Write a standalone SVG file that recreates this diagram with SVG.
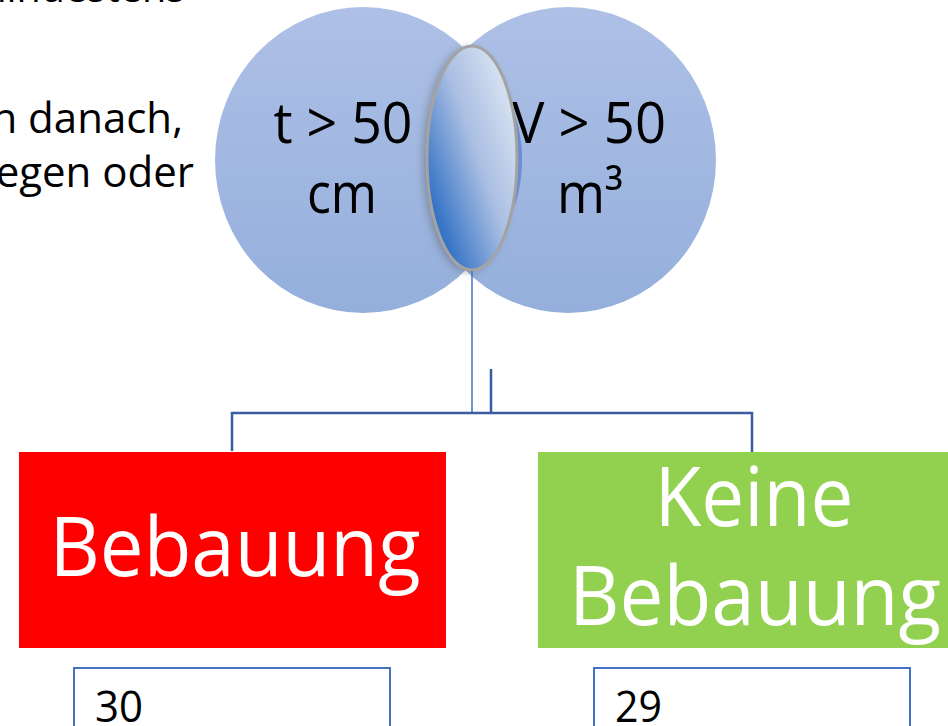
<svg xmlns="http://www.w3.org/2000/svg" width="948" height="726" viewBox="0 0 948 726">
<style>
.txt{font-family:"Open Sans","Liberation Sans",sans-serif;}
.side{font-size:42px;fill:#000;}
.ctext{font-size:56px;fill:#000;text-anchor:middle;}
.big{font-size:83px;fill:#fff;text-anchor:middle;}
.num{font-size:44px;fill:#000;}
.conn{fill:none;stroke:#3A5DA0;stroke-width:2.5;}
.box{fill:#fff;stroke:#4472C4;stroke-width:2;}
</style>
<defs>
<linearGradient id="cg" x1="0" y1="0" x2="0" y2="1">
<stop offset="0" stop-color="#AEC0E6"/>
<stop offset="1" stop-color="#94AFDC"/>
</linearGradient>
<linearGradient id="eg" x1="0.85" y1="0.2" x2="0.15" y2="0.8">
<stop offset="0" stop-color="#D3DEF0"/>
<stop offset="0.45" stop-color="#A9BEE2"/>
<stop offset="1" stop-color="#3674C6"/>
</linearGradient>
<filter id="sh" x="-50%" y="-20%" width="200%" height="140%">
<feGaussianBlur stdDeviation="4"/>
</filter>
</defs>

<g id="side-text" class="txt side">
<text x="185" y="2" text-anchor="end" textLength="215" lengthAdjust="spacingAndGlyphs">mindestens</text>
<text x="183" y="133" text-anchor="end">n danach,</text>
<text x="194" y="187" text-anchor="end">egen oder</text>
</g>

<g id="circle-left">
<ellipse cx="363" cy="160" rx="148" ry="153" fill="url(#cg)"/>
</g>
<g id="circle-right">
<ellipse cx="568" cy="160" rx="148" ry="153" fill="url(#cg)"/>
</g>
<g id="circle-texts" class="txt ctext">
<text x="343" y="143" textLength="139" lengthAdjust="spacingAndGlyphs">t &gt; 50</text>
<text x="342" y="213" textLength="70" lengthAdjust="spacingAndGlyphs">cm</text>
<text x="589" y="143" textLength="154" lengthAdjust="spacingAndGlyphs">V &gt; 50</text>
<text x="590" y="213" textLength="66" lengthAdjust="spacingAndGlyphs">m³</text>
</g>

<g id="intersection">
<ellipse cx="478" cy="160" rx="44" ry="82" fill="#5A86CF" opacity="0.8"/>
<ellipse cx="468" cy="160" rx="45" ry="112" fill="#555" opacity="0.45" filter="url(#sh)"/>
<ellipse cx="472" cy="158" rx="45" ry="112" fill="url(#eg)" stroke="#A3A3A3" stroke-width="3"/>
</g>

<g id="connectors">
<line x1="472" y1="271" x2="472" y2="413" stroke="#4472C4" stroke-width="1.5"/>
<line x1="491" y1="369" x2="491" y2="413" class="conn"/>
<polyline points="232,451 232,413 752,413 752,452" class="conn"/>
</g>

<g id="node-bebauung">
<rect x="19" y="452" width="427" height="196" fill="#FF0000"/>
<text class="txt big" x="235" y="576" textLength="371" lengthAdjust="spacingAndGlyphs">Bebauung</text>
</g>

<g id="node-keine">
<rect x="538" y="452" width="420" height="196" fill="#92D050"/>
<text class="txt big" x="754" y="526" textLength="199" lengthAdjust="spacingAndGlyphs">Keine</text>
<text class="txt big" x="755" y="625" textLength="372" lengthAdjust="spacingAndGlyphs">Bebauung</text>
</g>

<g id="box-30">
<rect x="74" y="668" width="316" height="70" class="box"/>
<text class="txt num" x="95" y="722" textLength="48" lengthAdjust="spacingAndGlyphs">30</text>
</g>
<g id="box-29">
<rect x="594" y="668" width="316" height="70" class="box"/>
<text class="txt num" x="615" y="722" textLength="47" lengthAdjust="spacingAndGlyphs">29</text>
</g>
</svg>
